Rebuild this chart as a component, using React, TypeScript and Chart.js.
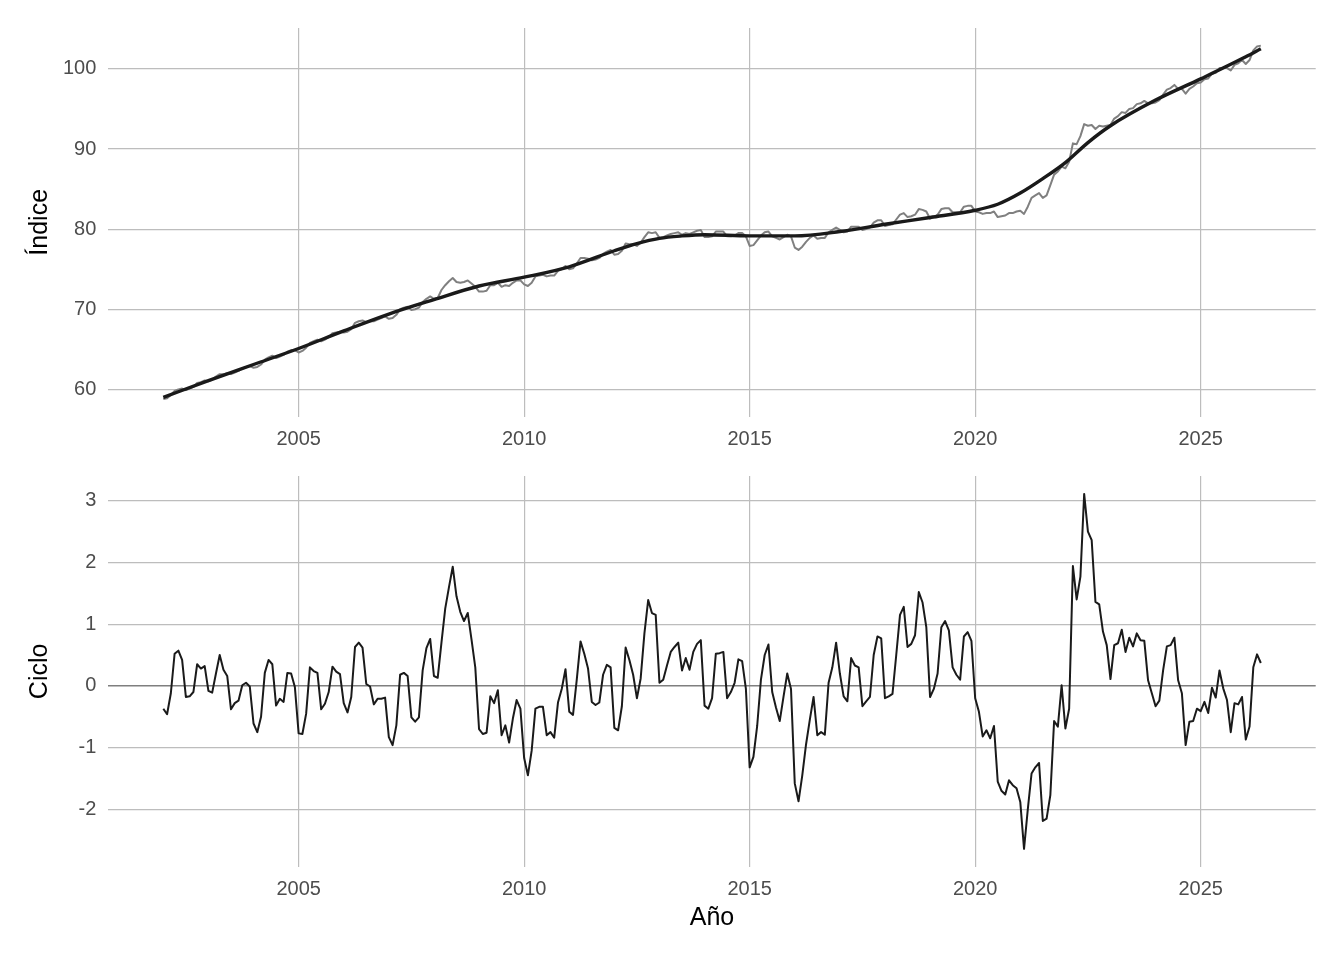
import React, { useEffect, useRef } from "react";
import { Chart, registerables } from "chart.js";

Chart.register(...registerables);

// ---------- DATA ----------
const START_YEAR = 2002; // monthly series starting January 2002

const indiceValues = [
  58.8, 58.9, 59.3, 59.8, 60.0, 60.1, 59.9, 60.1, 60.3, 60.8, 60.9, 61.1,
  61.0, 61.2, 61.6, 61.9, 61.9, 62.0, 61.9, 62.1, 62.3, 62.6, 62.8, 62.9,
  62.7, 62.8, 63.1, 63.7, 64.0, 64.2, 63.9, 64.1, 64.3, 64.7, 64.9, 64.9,
  64.6, 64.8, 65.2, 65.8, 66.0, 66.2, 66.0, 66.2, 66.5, 67.0, 67.1, 67.2,
  67.1, 67.2, 67.5, 68.3, 68.5, 68.6, 68.4, 68.5, 68.5, 68.7, 68.9, 69.1,
  68.8, 68.9, 69.3, 70.0, 70.2, 70.3, 69.9, 70.0, 70.2, 70.9, 71.3, 71.6,
  71.3, 71.4, 72.4, 73.0, 73.5, 73.9, 73.4, 73.3, 73.4, 73.6, 73.2, 72.8,
  72.2, 72.2, 72.3, 73.0, 73.0, 73.3, 72.8, 73.0, 72.9, 73.3, 73.6, 73.6,
  73.1, 72.9, 73.3, 74.1, 74.2, 74.3, 74.1, 74.2, 74.2, 74.8, 75.0, 75.4,
  75.0, 75.1, 75.7, 76.4, 76.4, 76.3, 76.1, 76.2, 76.4, 76.9, 77.2, 77.4,
  76.8, 76.9, 77.3, 78.2, 78.1, 78.1, 77.9, 78.3, 79.0, 79.6, 79.5, 79.6,
  78.9, 79.0, 79.2, 79.4, 79.5, 79.6, 79.3, 79.5, 79.4, 79.6, 79.8, 79.9,
  79.0, 79.0, 79.1, 79.7, 79.7, 79.7, 79.1, 79.1, 79.2, 79.5, 79.5, 79.1,
  77.9, 78.0, 78.6, 79.2, 79.6, 79.7, 79.1, 78.9, 78.7, 79.0, 79.3, 79.1,
  77.7, 77.4, 77.8, 78.4, 78.9, 79.2, 78.8, 78.9, 78.9, 79.6, 79.9, 80.2,
  79.9, 79.6, 79.7, 80.3, 80.3, 80.3, 79.9, 80.0, 80.2, 80.8, 81.1, 81.1,
  80.4, 80.5, 80.6, 81.2, 81.8, 82.0, 81.5, 81.6, 81.8, 82.5, 82.4, 82.2,
  81.3, 81.5, 81.8, 82.5, 82.6, 82.6, 82.1, 82.1, 82.1, 82.8, 82.9, 82.9,
  82.2, 82.1, 81.9, 82.0, 82.0, 82.2, 81.5, 81.6, 81.7, 82.0, 82.0, 82.2,
  82.3, 81.9, 82.8, 83.9, 84.2, 84.5, 83.9, 84.2, 85.5, 86.8, 87.2, 87.8,
  87.6, 88.4, 90.7, 90.6, 91.6, 93.1, 92.9, 93.0, 92.5, 92.9, 92.8, 92.9,
  93.0, 93.8, 94.1, 94.6, 94.5, 95.0, 95.1, 95.6, 95.7, 96.0, 95.7, 95.7,
  95.8, 96.1, 96.8, 97.4, 97.6, 98.0, 97.5, 97.5, 96.9, 97.5, 97.8, 98.2,
  98.3, 98.7, 98.8, 99.4, 99.5, 100.1, 100.1, 100.1, 99.8, 100.5, 100.7, 101.1,
  100.6, 101.1, 102.3, 102.8, 102.9,
];

const cicloValues = [
  -0.37, -0.46, -0.12, 0.52, 0.57, 0.42, -0.18, -0.17, -0.10, 0.35, 0.28, 0.32,
  -0.08, -0.11, 0.20, 0.50, 0.26, 0.16, -0.38, -0.28, -0.24, 0.01, 0.05, -0.01,
  -0.61, -0.75, -0.50, 0.21, 0.42, 0.35, -0.32, -0.21, -0.26, 0.21, 0.20, -0.02,
  -0.77, -0.78, -0.45, 0.30, 0.24, 0.21, -0.38, -0.29, -0.10, 0.31, 0.23, 0.19,
  -0.28, -0.43, -0.18, 0.63, 0.70, 0.62, 0.03, -0.01, -0.30, -0.21, -0.21, -0.19,
  -0.83, -0.96, -0.64, 0.18, 0.21, 0.16, -0.51, -0.58, -0.51, 0.25, 0.61, 0.76,
  0.16, 0.13, 0.70, 1.25, 1.60, 1.93, 1.45, 1.20, 1.05, 1.18, 0.75, 0.30,
  -0.70, -0.78, -0.76, -0.17, -0.28, -0.07, -0.80, -0.64, -0.92, -0.53, -0.23, -0.37,
  -1.17, -1.45, -1.05, -0.37, -0.34, -0.34, -0.80, -0.75, -0.84, -0.27, -0.05, 0.27,
  -0.42, -0.47, 0.10, 0.72, 0.52, 0.28, -0.26, -0.31, -0.27, 0.18, 0.34, 0.30,
  -0.68, -0.72, -0.33, 0.62, 0.42, 0.18, -0.20, 0.12, 0.85, 1.39, 1.18, 1.15,
  0.05, 0.10, 0.33, 0.55, 0.63, 0.70, 0.25, 0.45, 0.26, 0.55, 0.68, 0.74,
  -0.32, -0.37, -0.20, 0.52, 0.53, 0.55, -0.20, -0.10, 0.05, 0.43, 0.40, -0.05,
  -1.32, -1.15, -0.65, 0.10, 0.50, 0.67, -0.10, -0.35, -0.57, -0.18, 0.20, -0.05,
  -1.58, -1.87, -1.45, -0.95, -0.55, -0.18, -0.80, -0.75, -0.79, 0.05, 0.30, 0.70,
  0.20, -0.17, -0.25, 0.45, 0.33, 0.30, -0.33, -0.25, -0.18, 0.50, 0.80, 0.77,
  -0.20, -0.17, -0.13, 0.50, 1.15, 1.28, 0.63, 0.68, 0.82, 1.52, 1.35, 0.95,
  -0.18, -0.05, 0.20, 0.95, 1.05, 0.90, 0.30, 0.18, 0.10, 0.80, 0.87, 0.73,
  -0.20, -0.42, -0.82, -0.72, -0.85, -0.65, -1.55, -1.70, -1.76, -1.53, -1.61, -1.66,
  -1.88, -2.64, -2.00, -1.42, -1.32, -1.25, -2.19, -2.15, -1.77, -0.57, -0.66, 0.01,
  -0.69, -0.37, 1.94, 1.40, 1.77, 3.11, 2.50, 2.36, 1.36, 1.32, 0.88, 0.66,
  0.11, 0.66, 0.69, 0.91, 0.55, 0.78, 0.64, 0.85, 0.74, 0.73, 0.09, -0.12,
  -0.33, -0.24, 0.25, 0.64, 0.66, 0.78, 0.09, -0.12, -0.96, -0.58, -0.57, -0.37,
  -0.41, -0.26, -0.44, -0.03, -0.19, 0.25, -0.04, -0.23, -0.75, -0.28, -0.30, -0.18,
  -0.87, -0.66, 0.30, 0.51, 0.37,
];

const trendYears = [
  2002, 2003, 2004, 2005, 2006, 2007, 2008, 2009, 2010, 2011, 2012, 2012.5, 2013,
  2013.5, 2014, 2015, 2016, 2017, 2018, 2019, 2020, 2020.5, 2021, 2021.5, 2022,
  2022.5, 2023, 2024, 2025, 2026, 2026.3333,
];
const trendValues = [
  59.0, 61.1, 63.1, 65.1, 67.3, 69.4, 71.2, 72.9, 74.0, 75.3, 77.3, 78.2, 78.85,
  79.15, 79.3, 79.15, 79.15, 79.7, 80.6, 81.45, 82.35, 83.1, 84.5, 86.3, 88.3,
  90.8, 92.9, 96.1, 98.75, 101.5, 102.5,
];

const xTicks = [2005, 2010, 2015, 2020, 2025];
const indiceTicks = [60, 70, 80, 90, 100];
const cicloTicks = [-2, -1, 0, 1, 2, 3];

const X_MIN = 2000.78;
const X_MAX = 2027.55;
const INDICE_MIN = 56.6;
const INDICE_MAX = 105.1;
const CICLO_MIN = -2.93;
const CICLO_MAX = 3.4;

// ---------- STYLE ----------
const FONT = "'Liberation Sans', Arial, Helvetica, sans-serif";
const GRID = "#bdbdbd";
const ZERO = "#7f7f7f";
const TICK_COLOR = "#4d4d4d";
const TITLE_COLOR = "#000000";
const W = 1344;
const Y_AXIS_W = 108.3;
const RIGHT_PAD = W - 1315.7;

const monthX = cicloValues.map((_, i) => START_YEAR + i / 12);

function zeroPad(scale: any) {
  scale.paddingLeft = 0;
  scale.paddingRight = 0;
  scale.paddingTop = 0;
  scale.paddingBottom = 0;
}

function buildOptions(cfg: {
  yMin: number;
  yMax: number;
  yTicks: number[];
  yTitle: string;
  xTitle?: string;
  padTop: number;
  xHeight: number;
  zeroLine?: boolean;
}): any {
  return {
    responsive: false,
    animation: false,
    events: [],
    layout: { padding: { top: cfg.padTop, right: RIGHT_PAD, left: 0, bottom: 0 } },
    plugins: { legend: { display: false }, tooltip: { enabled: false } },
    scales: {
      x: {
        type: "linear",
        min: X_MIN,
        max: X_MAX,
        afterBuildTicks: (s: any) => {
          s.ticks = xTicks.map((v) => ({ value: v }));
        },
        afterFit: (s: any) => {
          s.height = cfg.xHeight;
          zeroPad(s);
        },
        grid: { color: GRID, lineWidth: 1.2, drawTicks: false },
        border: { display: false },
        ticks: {
          color: TICK_COLOR,
          font: { family: FONT, size: 20 },
          padding: 11,
          maxRotation: 0,
          autoSkip: false,
          callback: (v: any) => String(v),
        },
        title: cfg.xTitle
          ? {
              display: true,
              text: cfg.xTitle,
              color: TITLE_COLOR,
              font: { family: FONT, size: 25 },
              padding: { top: 0, bottom: 27 },
            }
          : { display: false },
      },
      y: {
        type: "linear",
        min: cfg.yMin,
        max: cfg.yMax,
        afterBuildTicks: (s: any) => {
          s.ticks = cfg.yTicks.map((v) => ({ value: v }));
        },
        afterFit: (s: any) => {
          s.width = Y_AXIS_W;
          zeroPad(s);
        },
        grid: {
          drawTicks: false,
          color: (c: any) => (cfg.zeroLine && c.tick && c.tick.value === 0 ? ZERO : GRID),
          lineWidth: (c: any) => (cfg.zeroLine && c.tick && c.tick.value === 0 ? 1.6 : 1.2),
        },
        border: { display: false },
        ticks: {
          color: TICK_COLOR,
          font: { family: FONT, size: 20 },
          padding: 12,
          autoSkip: false,
          callback: (v: any) => String(v),
        },
        title: {
          display: true,
          text: cfg.yTitle,
          color: TITLE_COLOR,
          font: { family: FONT, size: 25 },
          padding: { top: 25.5, bottom: 0 },
        },
      },
    },
  };
}

export default function App() {
  const topRef = useRef<HTMLCanvasElement | null>(null);
  const botRef = useRef<HTMLCanvasElement | null>(null);

  useEffect(() => {
    if (!topRef.current || !botRef.current) return;

    const top = new Chart(topRef.current, {
      type: "line",
      data: {
        datasets: [
          {
            label: "Tendencia",
            data: trendYears.map((x, i) => ({ x, y: trendValues[i] })),
            borderColor: "#1a1a1a",
            borderWidth: 3.4,
            pointRadius: 0,
            cubicInterpolationMode: "monotone",
            borderJoinStyle: "round",
            fill: false,
            order: 0,
          },
          {
            label: "Índice",
            data: monthX.map((x, i) => ({ x, y: indiceValues[i] })),
            borderColor: "#808080",
            borderWidth: 2,
            pointRadius: 0,
            tension: 0,
            borderJoinStyle: "round",
            fill: false,
            order: 1,
          },
        ],
      },
      options: buildOptions({
        yMin: INDICE_MIN,
        yMax: INDICE_MAX,
        yTicks: indiceTicks,
        yTitle: "Índice",
        padTop: 28,
        xHeight: 460 - 416.6,
      }),
    } as any);

    const bot = new Chart(botRef.current, {
      type: "line",
      data: {
        datasets: [
          {
            label: "Ciclo",
            data: monthX.map((x, i) => ({ x, y: cicloValues[i] })),
            borderColor: "#1a1a1a",
            borderWidth: 2,
            pointRadius: 0,
            tension: 0,
            borderJoinStyle: "round",
            fill: false,
          },
        ],
      },
      options: buildOptions({
        yMin: CICLO_MIN,
        yMax: CICLO_MAX,
        yTicks: cicloTicks,
        yTitle: "Ciclo",
        xTitle: "Año",
        padTop: 16,
        xHeight: 500 - 406.7,
        zeroLine: true,
      }),
    } as any);

    return () => {
      top.destroy();
      bot.destroy();
    };
  }, []);

  return (
    <div
      style={{
        position: "absolute",
        left: 0,
        top: 0,
        width: W,
        height: 960,
        background: "#ffffff",
        overflow: "hidden",
      }}
    >
      <canvas
        ref={topRef}
        width={W}
        height={460}
        style={{ position: "absolute", left: 0, top: 0, display: "block" }}
      />
      <canvas
        ref={botRef}
        width={W}
        height={500}
        style={{ position: "absolute", left: 0, top: 460, display: "block" }}
      />
    </div>
  );
}
